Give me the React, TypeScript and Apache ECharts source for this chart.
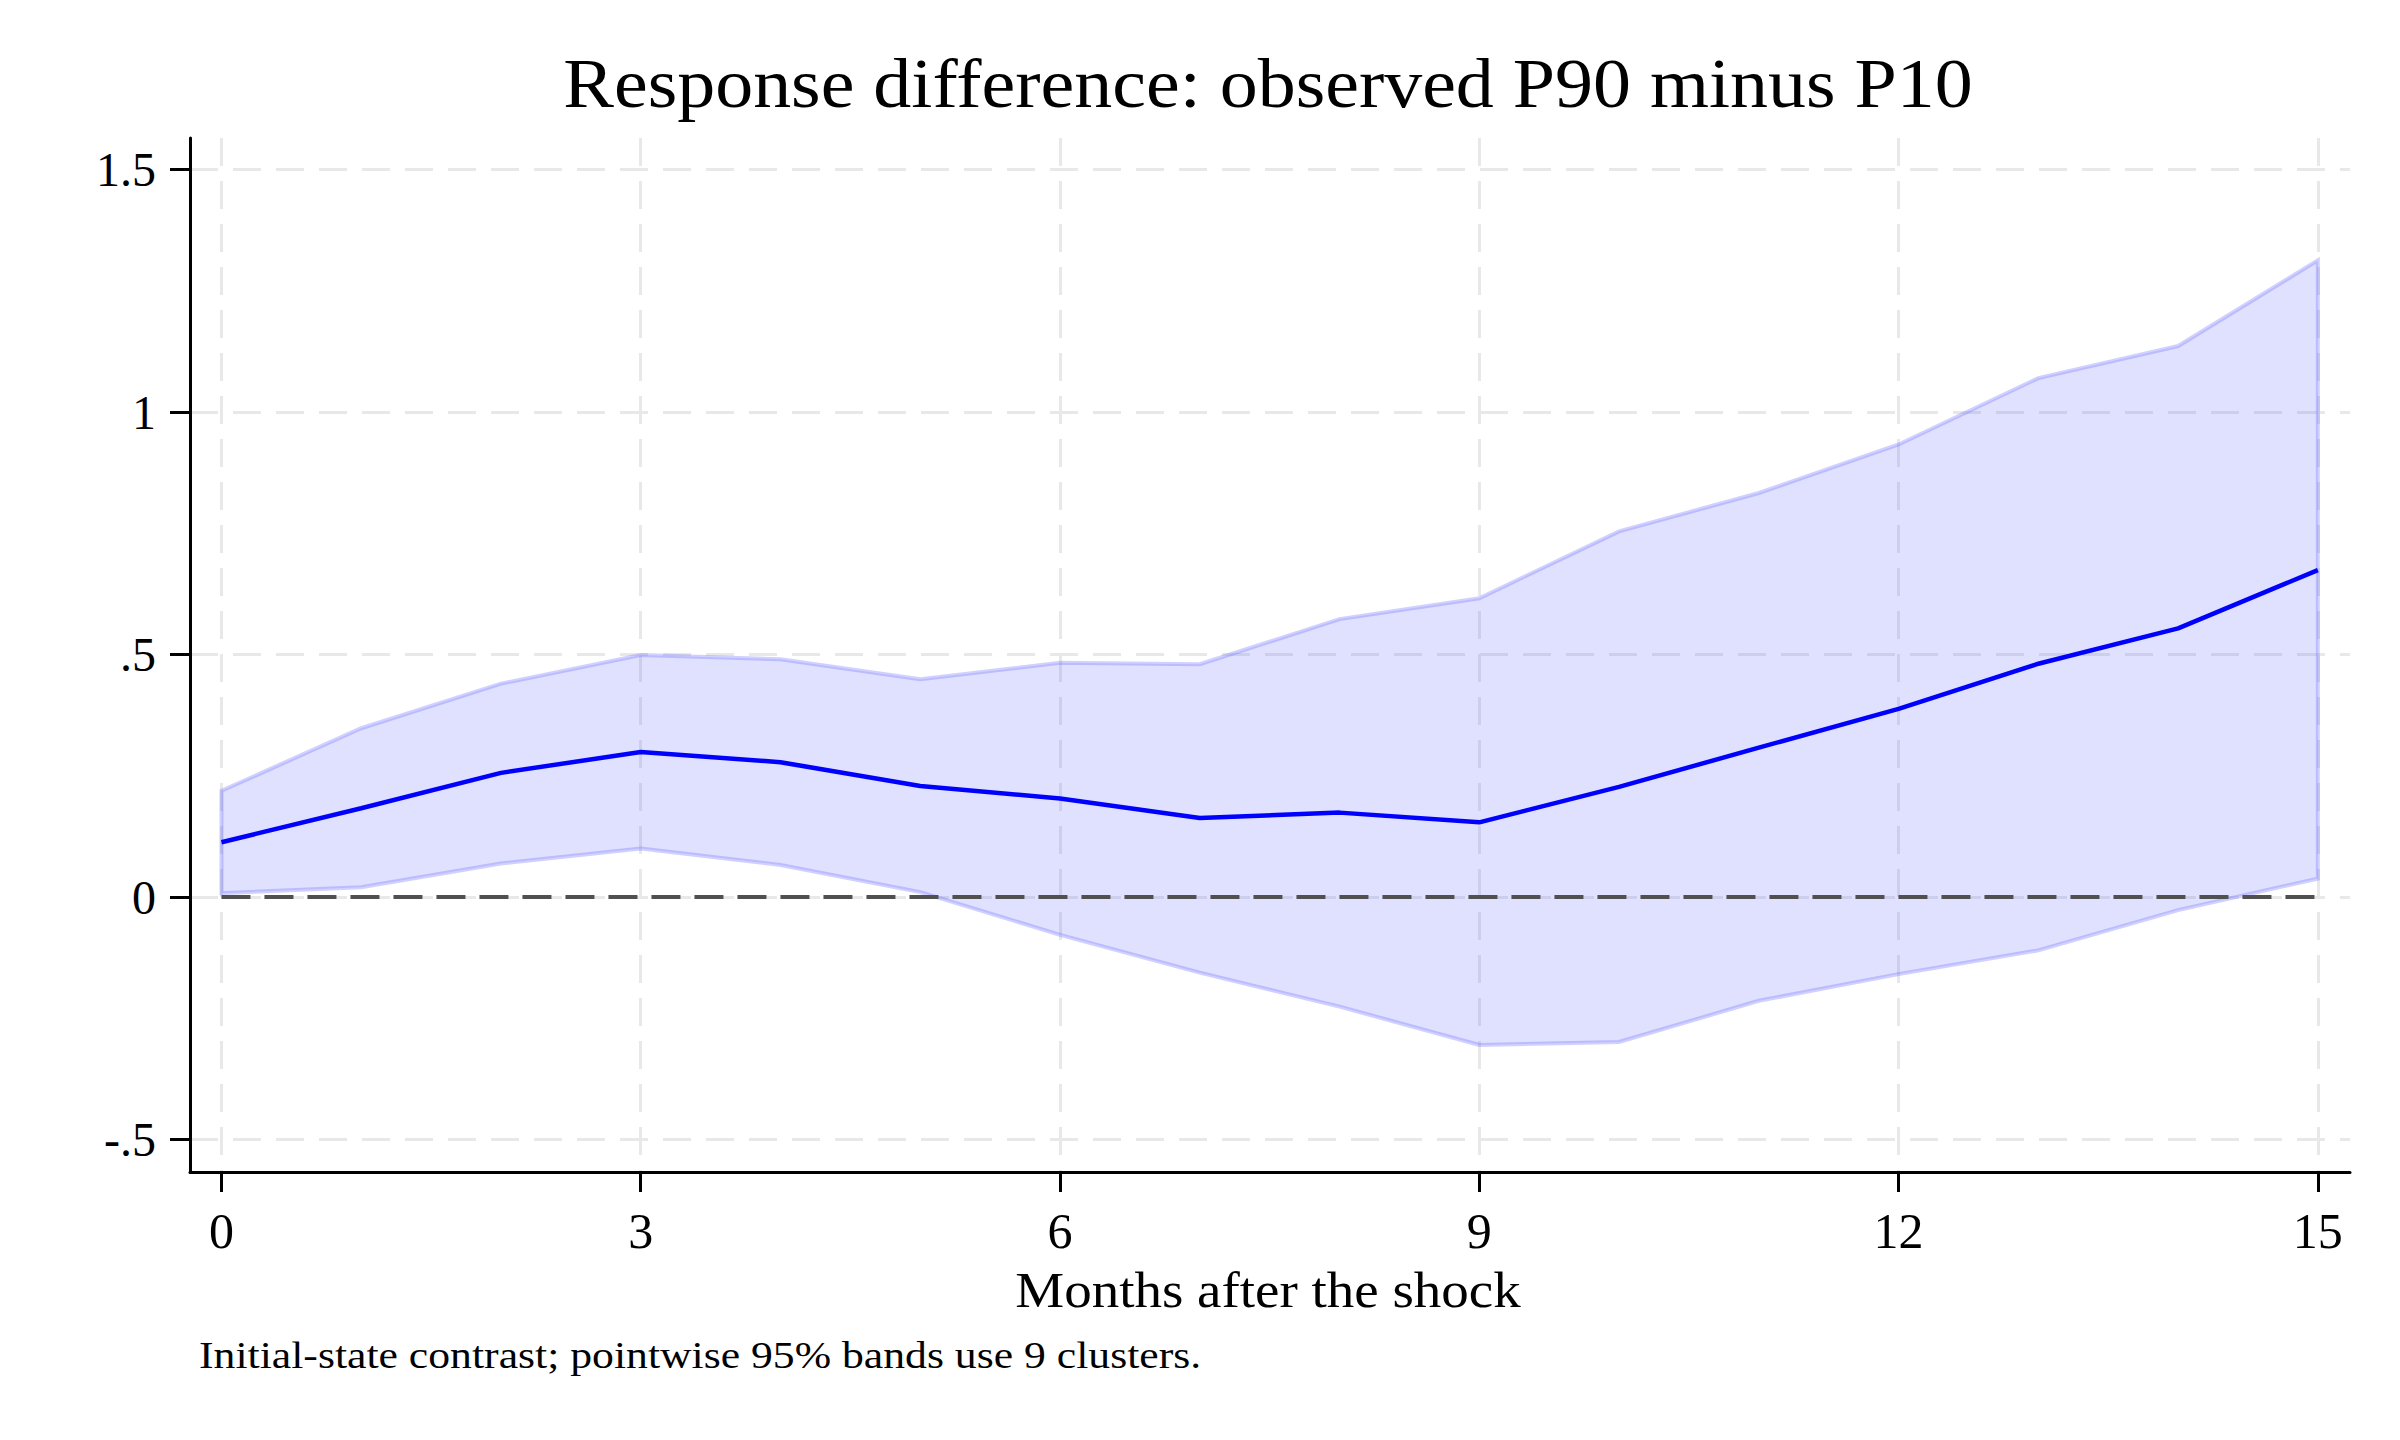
import React, { useEffect, useRef } from "react";
import * as echarts from "echarts";

// ---- data ----
const months = [0, 1, 2, 3, 4, 5, 6, 7, 8, 9, 10, 11, 12, 13, 14, 15];
const estimate = [0.113, 0.183, 0.256, 0.299, 0.278, 0.229, 0.203, 0.163, 0.174, 0.154, 0.227, 0.308, 0.388, 0.481, 0.554, 0.674];
const upperBand = [0.219, 0.348, 0.44, 0.499, 0.49, 0.449, 0.483, 0.48, 0.573, 0.616, 0.754, 0.833, 0.933, 1.07, 1.136, 1.313];
const lowerBand = [0.008, 0.02, 0.069, 0.1, 0.066, 0.01, -0.078, -0.156, -0.226, -0.305, -0.299, -0.214, -0.159, -0.11, -0.027, 0.038];
const xTicks = [0, 3, 6, 9, 12, 15];
const yTicks = [-0.5, 0, 0.5, 1, 1.5];
const yTickLabels = ["-.5", "0", ".5", "1", "1.5"];
const zeroLineX = [0, 15];
const titleText = "Response difference: observed P90 minus P10";
const xTitle = "Months after the shock";
const noteText = "Initial-state contrast; pointwise 95% bands use 9 clusters.";

const FONT = "'Liberation Serif', 'DejaVu Serif', serif";

export default function App() {
  const ref = useRef<HTMLDivElement>(null);

  useEffect(() => {
    if (!ref.current) return;
    const chart = echarts.init(ref.current, undefined, { renderer: "svg" });

    const bandData = months.map((m, i) => [m, lowerBand[i], upperBand[i]]);

    const option: any = {
      animation: false,
      backgroundColor: "#ffffff",
      grid: {
        left: 190,
        right: 50,
        top: 138,
        bottom: 268,
        containLabel: false,
        outerBoundsMode: "none",
      },
      xAxis: {
        type: "value",
        min: -0.225,
        max: 15.23,
        axisLine: { show: true, onZero: false, lineStyle: { color: "#000", width: 3 } },
        axisTick: { show: true, customValues: xTicks, length: 20, lineStyle: { color: "#000", width: 3 } },
        axisLabel: {
          customValues: xTicks,
          fontFamily: FONT,
          fontSize: 50,
          color: "#000",
          margin: 34,
        },
        splitLine: { show: true, lineStyle: { color: "#e8e8e8", width: 3, type: [28, 15] } },
      },
      yAxis: {
        type: "value",
        min: -0.567,
        max: 1.565,
        axisLine: { show: true, onZero: false, lineStyle: { color: "#000", width: 3 } },
        axisTick: { show: true, customValues: yTicks, length: 20, lineStyle: { color: "#000", width: 3 } },
        axisLabel: {
          customValues: yTicks,
          fontFamily: FONT,
          fontSize: 48,
          color: "#000",
          margin: 34,
          formatter: (v: number) => {
            const i = yTicks.findIndex((t) => Math.abs(t - v) < 1e-9);
            return i >= 0 ? yTickLabels[i] : "";
          },
        },
        splitLine: { show: true, lineStyle: { color: "#e8e8e8", width: 3, type: [28, 15] } },
      },
      graphic: [
        {
          type: "text",
          x: 1268,
          y: 84,
          scaleX: 1.085,
          style: {
            text: titleText,
            fontFamily: FONT,
            fontSize: 70,
            fill: "#000",
            align: "center",
            verticalAlign: "middle",
          },
        },
        {
          type: "text",
          x: 1268,
          y: 1290,
          scaleX: 1.1,
          style: {
            text: xTitle,
            fontFamily: FONT,
            fontSize: 50,
            fill: "#000",
            align: "center",
            verticalAlign: "middle",
          },
        },
        {
          type: "text",
          x: 199,
          y: 1355,
          scaleX: 1.15,
          style: {
            text: noteText,
            fontFamily: FONT,
            fontSize: 38,
            fill: "#000",
            align: "left",
            verticalAlign: "middle",
          },
        },
      ],
      series: [
        {
          type: "custom",
          name: "95% band",
          data: bandData,
          encode: { x: 0, y: [1, 2] },
          z: 2,
          renderItem: (params: any, api: any) => {
            if (params.dataIndex !== 0) return null;
            const up = bandData.map((d) => api.coord([d[0], d[2]]));
            const lo = bandData.map((d) => api.coord([d[0], d[1]])).reverse();
            return {
              type: "polygon",
              shape: { points: up.concat(lo) },
              style: {
                fill: "rgba(102,102,255,0.2)",
                stroke: "rgba(102,102,255,0.3)",
                lineWidth: 4,
              },
            };
          },
        },
        {
          type: "line",
          name: "zero",
          data: zeroLineX.map((x) => [x, 0]),
          symbol: "none",
          z: 3,
          lineStyle: { color: "#505050", width: 4, type: [29, 14] },
        },
        {
          type: "line",
          name: "estimate",
          data: months.map((m, i) => [m, estimate[i]]),
          symbol: "none",
          z: 4,
          lineStyle: { color: "#0000ff", width: 4.5 },
        },
      ],
    };

    chart.setOption(option);
    return () => chart.dispose();
  }, []);

  return (
    <div
      ref={ref}
      style={{ position: "fixed", left: 0, top: 0, width: 2400, height: 1440, background: "#fff" }}
    />
  );
}
